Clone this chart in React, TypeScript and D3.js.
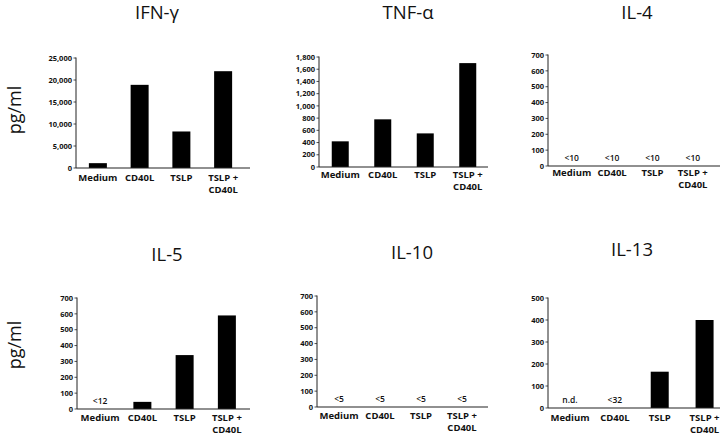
import React from "react";
import * as d3 from "d3";

const categories = ["Medium", "CD40L", "TSLP", "TSLP +|CD40L"];

const ifngValues = [1100, 18900, 8300, 22000];
const tnfaValues = [420, 780, 550, 1700];
const il4Values = [0, 0, 0, 0];
const il5Values = [0, 45, 340, 590];
const il10Values = [0, 0, 0, 0];
const il13Values = [0, 0, 165, 400];

const il4Notes = ["<10", "<10", "<10", "<10"];
const il5Notes = ["<12", "", "", ""];
const il10Notes = ["<5", "<5", "<5", "<5"];
const il13Notes = ["n.d.", "<32", "", ""];
const noNotes = ["", "", "", ""];

const ifngTicks = [0, 5000, 10000, 15000, 20000, 25000];
const tnfaTicks = [0, 200, 400, 600, 800, 1000, 1200, 1400, 1600, 1800];
const il700Ticks = [0, 100, 200, 300, 400, 500, 600, 700];
const il13Ticks = [0, 100, 200, 300, 400, 500];

type Layout = {
  axisX: number; top: number; zero: number; xEnd: number;
  bandStart: number; bandEnd: number; barW: number;
  titleX: number; titleY: number; catY: number;
};

const panels: {
  title: string; values: number[]; notes: string[]; ticks: number[]; layout: Layout;
}[] = [
  { title: "IFN-γ", values: ifngValues, notes: noNotes, ticks: ifngTicks,
    layout: { axisX: 76, top: 58, zero: 168, xEnd: 250, bandStart: 77, bandEnd: 244, barW: 18, titleX: 157, titleY: 19, catY: 181 } },
  { title: "TNF-α", values: tnfaValues, notes: noNotes, ticks: tnfaTicks,
    layout: { axisX: 319, top: 57, zero: 167, xEnd: 488, bandStart: 319, bandEnd: 489, barW: 17, titleX: 408, titleY: 19, catY: 178 } },
  { title: "IL-4", values: il4Values, notes: il4Notes, ticks: il700Ticks,
    layout: { axisX: 548, top: 55, zero: 166, xEnd: 720, bandStart: 551.5, bandEnd: 713, barW: 17, titleX: 637, titleY: 19, catY: 176 } },
  { title: "IL-5", values: il5Values, notes: il5Notes, ticks: il700Ticks,
    layout: { axisX: 77, top: 298, zero: 409, xEnd: 250, bandStart: 79, bandEnd: 248, barW: 18, titleX: 167, titleY: 261, catY: 421 } },
  { title: "IL-10", values: il10Values, notes: il10Notes, ticks: il700Ticks,
    layout: { axisX: 317, top: 296, zero: 407, xEnd: 488, bandStart: 318.5, bandEnd: 482.5, barW: 17, titleX: 412, titleY: 259, catY: 419 } },
  { title: "IL-13", values: il13Values, notes: il13Notes, ticks: il13Ticks,
    layout: { axisX: 548, top: 298, zero: 408, xEnd: 720, bandStart: 547.6, bandEnd: 727, barW: 18, titleX: 632, titleY: 256, catY: 421 } },
];

const FONT = "'Open Sans', 'DejaVu Sans', sans-serif";

function Panel({ p }: { p: typeof panels[number] }) {
  const L = p.layout;
  const maxT = p.ticks[p.ticks.length - 1];
  const y = d3.scaleLinear().domain([0, maxT]).range([L.zero, L.top]);
  const x = d3.scaleBand<string>().domain(categories).range([L.bandStart, L.bandEnd]);
  const fmt = d3.format(",");
  return (
    <g>
      <text x={L.titleX} y={L.titleY} textAnchor="middle" fontSize={18.5} fontFamily={FONT} fill="#111">{p.title}</text>
      {categories.map((c, i) => {
        const cx = (x(c) as number) + x.bandwidth() / 2;
        const v = p.values[i];
        return (
          <g key={c}>
            {v > 0 && (
              <rect x={cx - L.barW / 2} y={y(v)} width={L.barW} height={L.zero - y(v)} fill="#000" />
            )}
            {p.notes[i] && (
              <text x={cx} y={L.zero - 5} textAnchor="middle" fontSize={8.5} fontWeight={600} fontFamily={FONT} fill="#111">{p.notes[i]}</text>
            )}
            {c.split("|").map((line, k) => (
              <text key={k} x={cx} y={L.catY + k * 11.5} textAnchor="middle" fontSize={9.5} fontWeight={700} fontFamily={FONT} fill="#111">{line}</text>
            ))}
          </g>
        );
      })}
      <line x1={L.axisX} x2={L.axisX} y1={L.top - 0.5} y2={L.zero} stroke="#222" strokeWidth={1} />
      <line x1={L.axisX} x2={L.xEnd} y1={L.zero} y2={L.zero} stroke="#222" strokeWidth={1.2} />
      {p.ticks.map((t) => (
        <g key={t}>
          <line x1={L.axisX - 2.5} x2={L.axisX} y1={y(t)} y2={y(t)} stroke="#222" strokeWidth={0.8} />
          <text x={L.axisX - 4} y={y(t) + 2.7} textAnchor="end" fontSize={7.5} fontWeight={700} fontFamily={FONT} fill="#111">{fmt(t)}</text>
        </g>
      ))}
    </g>
  );
}

export default function App() {
  return (
    <svg width={720} height={434} style={{ position: "absolute", left: 0, top: 0, background: "#fff" }}>
      <rect width={720} height={434} fill="#fff" />
      {panels.map((p) => <Panel key={p.title} p={p} />)}
      <text transform="translate(21,110) rotate(-90)" textAnchor="middle" fontSize={18} fontFamily={FONT} fill="#111">pg/ml</text>
      <text transform="translate(21,345) rotate(-90)" textAnchor="middle" fontSize={18} fontFamily={FONT} fill="#111">pg/ml</text>
    </svg>
  );
}
